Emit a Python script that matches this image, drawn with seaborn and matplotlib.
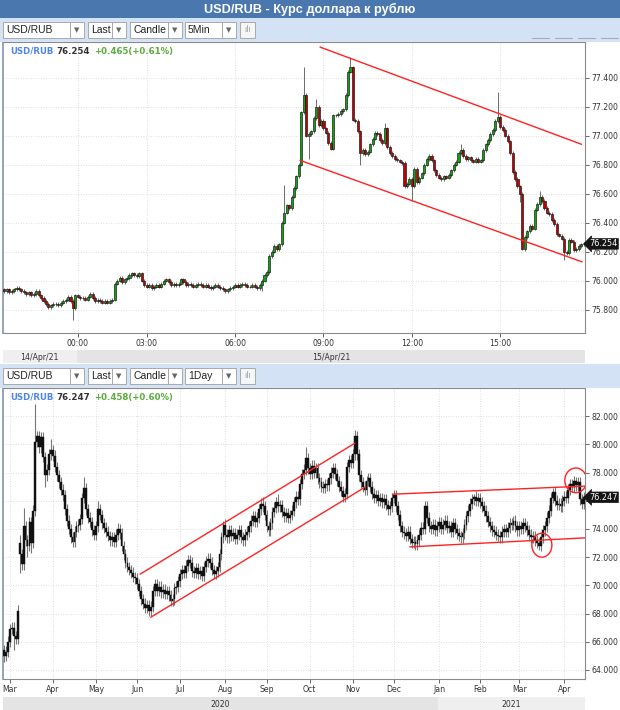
import numpy as np
import pandas as pd
import matplotlib
matplotlib.use("Agg")
import matplotlib.pyplot as plt
import matplotlib.transforms as mtransforms
from matplotlib.patches import Rectangle, Ellipse
from matplotlib.lines import Line2D
import seaborn as sns

W, H = 620, 710

# ---- 5 minute candles, 14/Apr/21 evening -> 15/Apr/21 afternoon
m5_close = [
    75.93, 75.94, 75.92, 75.93, 75.94, 75.95, 75.94, 75.93, 75.92, 75.91,
    75.92, 75.90, 75.91, 75.93, 75.90, 75.88, 75.86, 75.84, 75.82, 75.83,
    75.84, 75.84, 75.83, 75.85, 75.86, 75.87, 75.89, 75.86, 75.81, 75.90,
    75.89, 75.88, 75.88, 75.87, 75.89, 75.91, 75.88, 75.86, 75.87, 75.86,
    75.85, 75.86, 75.85, 75.86, 75.87, 75.98, 76.00, 76.02, 75.99, 76.01,
    76.02, 76.04, 76.05, 76.04, 76.03, 76.05, 76.00, 75.97, 75.96, 75.97,
    75.95, 75.96, 75.97, 75.96, 75.98, 76.00, 76.01, 75.99, 75.97, 75.98,
    75.97, 75.98, 76.01, 75.99, 75.97, 75.98, 75.97, 75.96, 75.97, 75.98,
    75.97, 75.96, 75.97, 75.96, 75.95, 75.96, 75.97, 75.96, 75.95, 75.94,
    75.93, 75.94, 75.95, 75.96, 75.97, 75.96, 75.97, 75.98, 75.97, 75.96,
    75.96, 75.97, 75.96, 75.95, 75.97, 76.00, 76.04, 76.06, 76.17, 76.20,
    76.24, 76.22, 76.25, 76.40, 76.47, 76.52, 76.50, 76.58, 76.64, 76.72,
    76.80, 77.16, 77.28, 77.00, 77.01, 77.03, 77.12, 77.20, 77.07, 77.10,
    77.05, 77.02, 76.95, 76.91, 77.14, 77.14, 77.15, 77.17, 77.18, 77.28,
    77.44, 77.47, 77.11, 77.10, 77.03, 76.88, 76.90, 76.87, 76.89, 76.94,
    76.98, 77.02, 77.01, 76.97, 76.95, 77.05, 76.92, 76.88, 76.86, 76.84,
    76.83, 76.82, 76.81, 76.65, 76.67, 76.70, 76.65, 76.77, 76.68, 76.71,
    76.74, 76.80, 76.84, 76.86, 76.83, 76.76, 76.73, 76.71, 76.70, 76.72,
    76.71, 76.73, 76.76, 76.80, 76.82, 76.88, 76.90, 76.86, 76.84, 76.85,
    76.83, 76.82, 76.84, 76.82, 76.83, 76.90, 76.94, 76.97, 77.01, 77.04,
    77.10, 77.13, 77.06, 77.04, 77.00, 76.96, 76.88, 76.75, 76.70, 76.65,
    76.60, 76.22, 76.30, 76.34, 76.38, 76.36, 76.49, 76.53, 76.58, 76.55,
    76.50, 76.47, 76.46, 76.42, 76.39, 76.32, 76.31, 76.29, 76.20, 76.19,
    76.28, 76.27, 76.21, 76.22, 76.24, 76.25, 76.254,
]
m5_first_open = 75.94
m5_high = {114: 76.66, 122: 77.47, 127: 77.25, 141: 77.54, 155: 77.09,
           186: 76.94, 201: 77.30, 218: 76.62}
m5_low = {28: 75.73, 105: 75.93, 124: 76.84, 145: 76.80, 166: 76.55,
          210: 76.54, 211: 76.21, 228: 76.14}
m5_wick = 0.012
m5_tick_pos = [30, 58, 94, 130, 166, 202]
m5_tick_lab = ["00:00", "03:00", "06:00", "09:00", "12:00", "15:00"]
m5_day_start = [0, 30]
m5_day_lab = ["14/Apr/21", "15/Apr/21"]
m5_yticks = [75.8, 76.0, 76.2, 76.4, 76.6, 76.8, 77.0, 77.2, 77.4]
m5_ylim = (75.64, 77.645)
m5_lines_x = [[128.6, 235.1], [120.4, 235.3]]
m5_lines_y = [[77.61, 76.94], [76.83, 76.13]]
m5_last = "76.254"
m5_change = "+0.465(+0.61%)"

# ---- daily candles, 26 Feb 2020 -> 15 Apr 2021
d1_start = "2020-02-26"
d1_close = [
    65.0, 65.3, 66.0, 66.9, 67.0, 66.4, 66.2, 68.2, 72.2, 71.5,
    74.2, 73.2, 72.8, 74.5, 73.0, 75.3, 80.2, 80.6, 79.8, 80.5,
    79.1, 77.8, 78.2, 79.3, 79.6, 79.2, 78.4, 77.8, 77.3, 76.8,
    76.4, 75.4, 74.6, 74.0, 73.4, 73.1, 73.8, 74.2, 74.3, 74.7,
    76.2, 76.9, 75.4, 74.8, 74.5, 73.9, 73.6, 74.2, 75.4, 75.0,
    74.4, 74.1, 73.8, 73.5, 73.2, 73.4, 73.1, 73.6, 74.0, 73.7,
    72.8, 72.2, 71.6, 71.3, 71.1, 70.9, 70.6, 70.5, 70.1, 69.6,
    69.0, 68.7, 68.4, 68.6, 68.2, 68.5, 69.6, 70.1, 69.6, 69.9,
    69.5, 69.7, 69.4, 69.6, 69.3, 68.9, 69.0, 69.8, 69.9, 70.3,
    70.8, 71.1, 70.9, 71.4, 71.8, 71.6, 71.0, 70.9, 71.2, 70.8,
    71.0, 70.7, 71.3, 71.7, 71.9, 71.6, 71.1, 70.8, 71.0, 71.3,
    72.2, 73.4, 74.3, 73.6, 73.4, 73.9, 73.5, 73.7, 73.3, 73.6,
    73.9, 73.4, 73.2, 73.6, 73.8, 74.2, 74.6, 74.9, 74.5, 74.8,
    75.4, 75.8, 75.6, 75.0, 74.2, 73.9, 74.4, 75.2, 75.5, 75.9,
    75.6, 75.7, 75.2, 74.9, 75.1, 74.8, 75.0, 75.3, 75.9, 76.3,
    76.1, 77.2, 77.9, 78.2, 79.0, 78.3, 77.9, 78.5, 78.0, 78.3,
    77.6, 77.3, 77.0, 76.9, 77.2, 77.1, 77.6, 78.0, 78.3, 77.9,
    77.4, 77.0, 76.7, 76.3, 76.5, 78.4, 78.9, 78.7, 79.3, 80.6,
    79.3, 77.8, 77.3, 77.0, 76.8, 77.4, 77.6, 77.0, 76.5, 76.2,
    76.4, 76.0, 76.2, 75.9, 76.1, 75.7, 75.4, 75.6, 76.2, 76.4,
    75.6, 75.0, 74.2, 73.8, 73.7, 73.5, 73.8, 73.3, 73.0, 73.1,
    72.9, 73.2, 73.6, 74.1, 74.0, 75.6, 74.8, 74.2, 74.0, 74.3,
    73.9, 74.2, 74.5, 74.0, 74.3, 74.6, 74.1, 74.2, 73.8, 74.4,
    74.0, 73.7, 73.5, 73.4, 73.7, 74.3, 74.9, 75.3, 75.8, 76.1,
    76.3, 76.0, 76.2, 75.9, 75.6, 75.3, 74.9, 74.5, 74.2, 73.9,
    73.8, 73.6, 73.5, 73.4, 73.8, 74.0, 73.8, 74.1, 74.4, 74.3,
    74.6, 74.2, 73.9, 74.2, 74.0, 74.4, 74.2, 73.9, 73.6, 73.4,
    73.5, 73.2, 73.0, 72.8, 73.4, 73.9, 74.2, 74.8, 75.3, 76.2,
    76.6, 76.0, 75.7, 75.8, 75.6, 76.0, 76.3, 76.2, 76.8, 77.2,
    77.0, 77.4, 77.1, 77.3, 76.1, 75.8, 76.247,
]
d1_first_open = 65.4
d1_open = {8: 73.0}
d1_high = {8: 73.6, 10: 75.5, 16: 82.9, 24: 80.4, 41: 77.7, 48: 76.0,
           58: 74.4, 112: 74.6, 132: 76.3, 140: 76.5, 154: 79.8, 179: 81.0,
           215: 76.0, 240: 76.5, 260: 74.9, 280: 76.9, 292: 77.7}
d1_low = {0: 64.6, 5: 65.4, 8: 70.9, 12: 72.0, 14: 72.3, 21: 77.0, 273: 72.5}
d1_wick = 0.38
d1_yticks = [64, 66, 68, 70, 72, 74, 76, 78, 80, 82]
d1_hidden_label = 76  # covered by the last-price tag in the original
d1_ylim = (63.36, 84.0)
d1_lines_x = [[74.9, 184.2], [69.4, 179.1], [198.5, 296.4], [207.1, 296.4]]
d1_lines_y = [[67.74, 76.96], [70.79, 80.09], [76.47, 77.04], [72.73, 73.37]]
d1_circles_x = [291.8, 274.5]
d1_circles_y = [77.45, 72.85]
d1_circles_w = [11.2, 10.2]
d1_circles_h = [1.75, 1.7]
d1_last = "76.247"
d1_change = "+0.458(+0.60%)"

title = "USD/RUB - Курс доллара к рублю"

sns.set_theme(style="white")
plt.rcParams["font.family"] = ["DejaVu Sans"]
UI_FONT = ["Liberation Sans", "DejaVu Sans"]


def fr(x, y, w, h):
    return [x / W, 1 - (y + h) / H, w / W, h / H]


def ohlc(close, first_open, opens, highs, lows, wick):
    c = np.array(close, dtype=float)
    o = np.r_[first_open, c[:-1]]
    for k, v in opens.items():
        o[k] = v
    hi = np.maximum(o, c) + wick
    lo = np.minimum(o, c) - wick
    for k, v in highs.items():
        hi[k] = v
    for k, v in lows.items():
        lo[k] = v
    return o, hi, lo, c


def candles(ax, o, hi, lo, c, width, up_col, dn_col, edge, edge_lw, wick_col, wick_lw):
    x = np.arange(len(c))
    ax.vlines(x, lo, hi, color=wick_col, lw=wick_lw, zorder=2)
    up = c >= o
    ax.bar(x[up], (c - o)[up], bottom=o[up], width=width, color=up_col,
           edgecolor=edge, linewidth=edge_lw, zorder=3)
    ax.bar(x[~up], (o - c)[~up], bottom=c[~up], width=width, color=dn_col,
           edgecolor=edge, linewidth=edge_lw, zorder=3)


def style(ax, n, ylim, yticks, xpos, xlab, hidden=None):
    ax.set_xlim(-0.5, n - 0.5)
    ax.set_ylim(*ylim)
    ax.yaxis.tick_right()
    ax.set_yticks(yticks)
    ax.set_yticklabels(["" if v == hidden else f"{v:.3f}" for v in yticks])
    ax.set_xticks(xpos)
    ax.set_xticklabels(xlab)
    ax.tick_params(axis="both", direction="out", length=3, width=0.7,
                   color="#666666", labelsize=5.6, labelcolor="#333333", pad=1.5)
    ax.tick_params(axis="y", right=True, left=False)
    ax.tick_params(axis="x", bottom=True)
    ax.grid(True, ls=(0, (1, 2)), color="#d5d5d5", lw=0.6)
    ax.set_axisbelow(True)
    for s in ax.spines.values():
        s.set_color("#8a8a8a")
        s.set_linewidth(0.8)
    ax.spines["left"].set_color("#8d9db2")
    ax.spines["left"].set_linewidth(1.3)
    ax.set_xlabel("")
    ax.set_ylabel("")


def header(ax, price, change):
    t1 = ax.text(0.012, 0.983, "USD/RUB", transform=ax.transAxes, color="#4f86ea",
                 fontsize=6.2, weight="bold", va="top", ha="left", zorder=6)
    t2 = ax.annotate(price, xy=(1, 0), xycoords=t1, xytext=(2.5, 0),
                     textcoords="offset points", color="#333333", fontsize=6.2,
                     weight="bold", va="bottom", ha="left", zorder=6)
    ax.annotate(change, xy=(1, 0), xycoords=t2, xytext=(2.5, 0),
                textcoords="offset points", color="#5aac3c", fontsize=6.2,
                weight="bold", va="bottom", ha="left", zorder=6)


def last_tag(ax, value, text):
    tr = mtransforms.blended_transform_factory(fig.transFigure, ax.transData)
    ax.text(617.5 / W, value, text, transform=tr, color="white", fontsize=5.9,
            va="center", ha="right", clip_on=False, zorder=7,
            bbox=dict(boxstyle="larrow,pad=0.1", fc="#151515", ec="#151515", lw=0.5))


def band(rect, n, starts, labels, colors):
    b = fig.add_axes(rect)
    b.set_xlim(-0.5, n - 0.5)
    b.set_ylim(0, 1)
    b.axis("off")
    edges = list(starts) + [n]
    for i, lab in enumerate(labels):
        b.axvspan(edges[i] - 0.5, edges[i + 1] - 0.5, color=colors[i], lw=0)
        b.text((edges[i] + edges[i + 1] - 1) / 2, 0.45, lab, ha="center",
               va="center", fontsize=5.6, color="#333333")


def toolbar(y, interval):
    fig.patches.append(Rectangle((0, 1 - (y + 24) / H), 1, 24 / H,
                                 transform=fig.transFigure, fc="#d3e3f5",
                                 ec="none", zorder=0))
    boxes = [(3, 67, "USD/RUB"), (88, 24, "Last"), (130, 38, "Candle"),
             (185, 37, interval)]
    for x, w, lab in boxes:
        for bx, bw in [(x, w), (x + w, 14)]:
            fig.patches.append(Rectangle((bx / W, 1 - (y + 20) / H), bw / W, 16 / H,
                                         transform=fig.transFigure, fc="white",
                                         ec="#a9a9a9", lw=0.7, zorder=1))
        fig.text((x + 3) / W, 1 - (y + 12) / H, lab, fontsize=7.5, color="#222222",
                 va="center", ha="left", family=UI_FONT, zorder=2)
        fig.text((x + w + 7) / W, 1 - (y + 12) / H, "▼", fontsize=5, color="#666666",
                 va="center", ha="center", zorder=2)
    fig.patches.append(Rectangle((240 / W, 1 - (y + 20) / H), 15 / W, 16 / H,
                                 transform=fig.transFigure, fc="#f4f6f8",
                                 ec="#a9a9a9", lw=0.7, zorder=1))
    fig.text(247.5 / W, 1 - (y + 12) / H, "ıIı", fontsize=5.5, color="#999999",
             va="center", ha="center", zorder=2)


fig = plt.figure(figsize=(W / 100, H / 100), dpi=100)
fig.patch.set_facecolor("white")

# title bar and toolbars
fig.patches.append(Rectangle((0, 1 - 18 / H), 1, 18 / H, transform=fig.transFigure,
                             fc="#4a78ae", ec="none", zorder=0))
fig.text(0.5, 1 - 9 / H, title, color="white", fontsize=9.2, weight="bold",
         ha="center", va="center", family=UI_FONT)
toolbar(18, "5Min")
toolbar(364, "1Day")
for x0 in [532, 555, 578, 601]:
    fig.add_artist(Line2D([x0 / W, (x0 + 17) / W], [1 - 38 / H] * 2,
                          transform=fig.transFigure, color="#a3acb8", lw=0.8))

# ---- top: 5 minute chart
ax1 = fig.add_axes(fr(3, 42, 582, 291))
n1 = len(m5_close)
o, hi, lo, c = ohlc(m5_close, m5_first_open, {}, m5_high, m5_low, m5_wick)
candles(ax1, o, hi, lo, c, 0.85, "#0fa50f", "#c00000", "#111111", 0.45, "#555555", 0.6)
for xs, ys in zip(m5_lines_x, m5_lines_y):
    sns.lineplot(x=xs, y=ys, ax=ax1, color="#ff2222", lw=1.0, legend=False,
                 estimator=None, sort=False, zorder=5)
style(ax1, n1, m5_ylim, m5_yticks, m5_tick_pos, m5_tick_lab)
header(ax1, m5_last, m5_change)
last_tag(ax1, m5_close[-1], m5_last)
band(fr(3, 350, 582, 13), n1, m5_day_start, m5_day_lab, ["#efefef", "#e4e4e4"])

# ---- bottom: daily chart
ax2 = fig.add_axes(fr(3, 388, 582, 291))
n2 = len(d1_close)
dates = pd.bdate_range(d1_start, periods=n2)
months = dates.to_period("M")
first = np.r_[True, months[1:] != months[:-1]]
mpos = np.where(first)[0][1:]
mlab = [d.strftime("%b") for d in dates[mpos]]
o, hi, lo, c = ohlc(d1_close, d1_first_open, d1_open, d1_high, d1_low, d1_wick)
candles(ax2, o, hi, lo, c, 0.95, "#111111", "#111111", "#111111", 0.3, "#777777", 0.8)
for xs, ys in zip(d1_lines_x, d1_lines_y):
    sns.lineplot(x=xs, y=ys, ax=ax2, color="#ff2222", lw=1.0, legend=False,
                 estimator=None, sort=False, zorder=5)
for cx, cy, cw, ch in zip(d1_circles_x, d1_circles_y, d1_circles_w, d1_circles_h):
    ax2.add_patch(Ellipse((cx, cy), cw, ch, fill=False, ec="#ff2222", lw=1.0, zorder=5))
style(ax2, n2, d1_ylim, d1_yticks, mpos, mlab, hidden=d1_hidden_label)
header(ax2, d1_last, d1_change)
last_tag(ax2, d1_close[-1], d1_last)
years = dates.year
ystart = [0, int(np.argmax(years == 2021))]
band(fr(3, 697, 582, 13), n2, ystart, ["2020", "2021"], ["#e4e4e4", "#efefef"])

fig.savefig("out.png", dpi=100)
